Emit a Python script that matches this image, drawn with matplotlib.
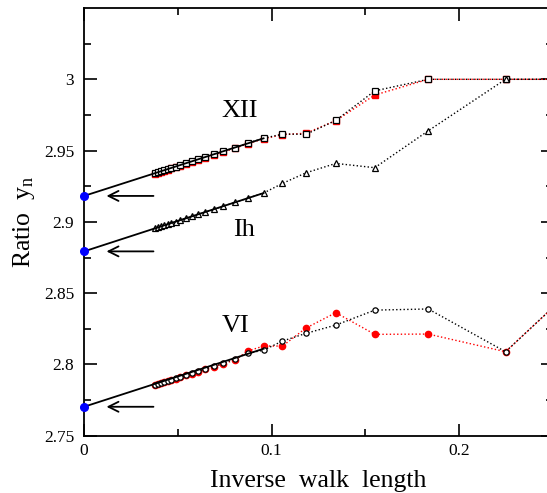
import matplotlib
matplotlib.use('Agg')
import matplotlib.pyplot as plt

plt.rcParams['font.family'] = ['Liberation Serif', 'DejaVu Serif']
plt.rcParams['mathtext.fontset'] = 'custom'
plt.rcParams['mathtext.rm'] = 'Liberation Serif'
plt.rcParams['mathtext.it'] = 'Liberation Serif:italic'

# inverse walk length (x) of every point
x_pts = [0.0378, 0.0393, 0.0409, 0.0426, 0.0446, 0.0466, 0.0489, 0.0514, 0.0542,
         0.0573, 0.0608, 0.0647, 0.0692, 0.0743, 0.0803, 0.0873, 0.0957,
         0.1058, 0.1183, 0.1342, 0.1550, 0.1835, 0.2247, 0.2857]

# XII
xii_black = [2.9342, 2.9348, 2.9355, 2.9362, 2.9370, 2.9379, 2.9388, 2.9399, 2.9411,
             2.9424, 2.9439, 2.9455, 2.9474, 2.9496, 2.9519, 2.9553, 2.9586,
             2.9616, 2.9614, 2.9712, 2.9919, 3.0000, 3.0000, 3.0000]
xii_red = [2.9338, 2.9344, 2.9351, 2.9358, 2.9366, 2.9375, 2.9384, 2.9395, 2.9407,
           2.9420, 2.9435, 2.9451, 2.9470, 2.9492, 2.9515, 2.9549, 2.9582,
           2.9612, 2.9622, 2.9710, 2.9890, 3.0000, 3.0000, 3.0000]

# Ih
ih_black = [2.8954, 2.8961, 2.8968, 2.8975, 2.8983, 2.8992, 2.9002, 2.9012, 2.9024,
            2.9038, 2.9053, 2.9069, 2.9088, 2.9110, 2.9136, 2.9166, 2.9202,
            2.9270, 2.9344, 2.9410, 2.9380, 2.9639, 3.0000, 3.0000]

# VI
vi_black = [2.7858, 2.7864, 2.7870, 2.7877, 2.7885, 2.7894, 2.7903, 2.7913, 2.7925,
            2.7937, 2.7952, 2.7968, 2.7986, 2.8007, 2.8040, 2.8078, 2.8100,
            2.8164, 2.8218, 2.8276, 2.8381, 2.8389, 2.8089, 2.8840]
vi_red = [2.7856, 2.7862, 2.7868, 2.7875, 2.7883, 2.7892, 2.7901, 2.7911, 2.7923,
          2.7935, 2.7950, 2.7966, 2.7984, 2.8005, 2.8030, 2.8094, 2.8129,
          2.8129, 2.8255, 2.8363, 2.8211, 2.8213, 2.8089, 2.8840]

# extrapolated values (x = 0) and fitted lines
fit_x = [0.0, 0.0957]
xii_fit = [2.9182, 2.9586]
ih_fit = [2.8793, 2.9202]
vi_fit = [2.7703, 2.8110]

fig = plt.figure(figsize=(5.47, 4.93), dpi=100)
ax = fig.add_axes([0.1536, 0.1162, 0.8574, 0.8675])

# red series
ax.plot(x_pts, xii_red, color='red', linestyle=':', linewidth=1, marker='s',
        markersize=3.8, markerfacecolor='red', markeredgecolor='red')
ax.plot(x_pts, vi_red, color='red', linestyle=':', linewidth=1, marker='o',
        markersize=4.5, markerfacecolor='red', markeredgecolor='red')

# black series
ax.plot(x_pts, xii_black, color='black', linestyle=':', linewidth=1, marker='s',
        markersize=3.8, markerfacecolor='white', markeredgecolor='black', markeredgewidth=0.9)
ax.plot(x_pts, ih_black, color='black', linestyle=':', linewidth=1, marker='^',
        markersize=4.3, markerfacecolor='white', markeredgecolor='black', markeredgewidth=0.9)
ax.plot(x_pts, vi_black, color='black', linestyle=':', linewidth=1, marker='o',
        markersize=3.8, markerfacecolor='white', markeredgecolor='black', markeredgewidth=0.9)

# fits
for fy in [xii_fit, ih_fit, vi_fit]:
    ax.plot(fit_x, fy, color='black', linewidth=1.3)
    ax.plot(fit_x[0], fy[0], 'o', color='blue', markersize=5.5, clip_on=False, zorder=5)
    ax.annotate('', xy=(0.0105, fy[0]), xytext=(0.0385, fy[0]),
                arrowprops=dict(arrowstyle='->', color='black', lw=1.3, mutation_scale=18))

ax.text(0.0831, 2.9777, 'XII', fontsize=19, ha='center', va='center')
ax.text(0.0852, 2.8943, 'Ih', fontsize=19, ha='center', va='center')
ax.text(0.0807, 2.8273, 'VI', fontsize=19, ha='center', va='center')

ax.set_xlim(0, 0.25)
ax.set_ylim(2.75, 3.05)
ax.set_xticks([0, 0.1, 0.2])
ax.set_xticklabels(['0', '0.1', '0.2'])
ax.set_xticks([0.05, 0.15, 0.25], minor=True)
ax.set_yticks([2.75, 2.8, 2.85, 2.9, 2.95, 3.0])
ax.set_yticklabels(['2.75', '2.8', '2.85', '2.9', '2.95', '3'])
ax.set_yticks([2.775, 2.825, 2.875, 2.925, 2.975, 3.025], minor=True)
ax.tick_params(which='both', direction='in', top=True, right=True, width=1.2, labelsize=12.5)
ax.tick_params(which='major', length=9)
ax.tick_params(which='minor', length=5)
ax.tick_params(axis='x', pad=5)
ax.tick_params(axis='y', pad=7)
for s in ax.spines.values():
    s.set_linewidth(1.3)

ax.set_xlabel('Inverse  walk  length', fontsize=18.5, labelpad=8)
ax.set_ylabel(r'Ratio  $\mathrm{y}_{\mathrm{n}}$', fontsize=18.5, labelpad=5)

plt.savefig('out.png', dpi=100)
